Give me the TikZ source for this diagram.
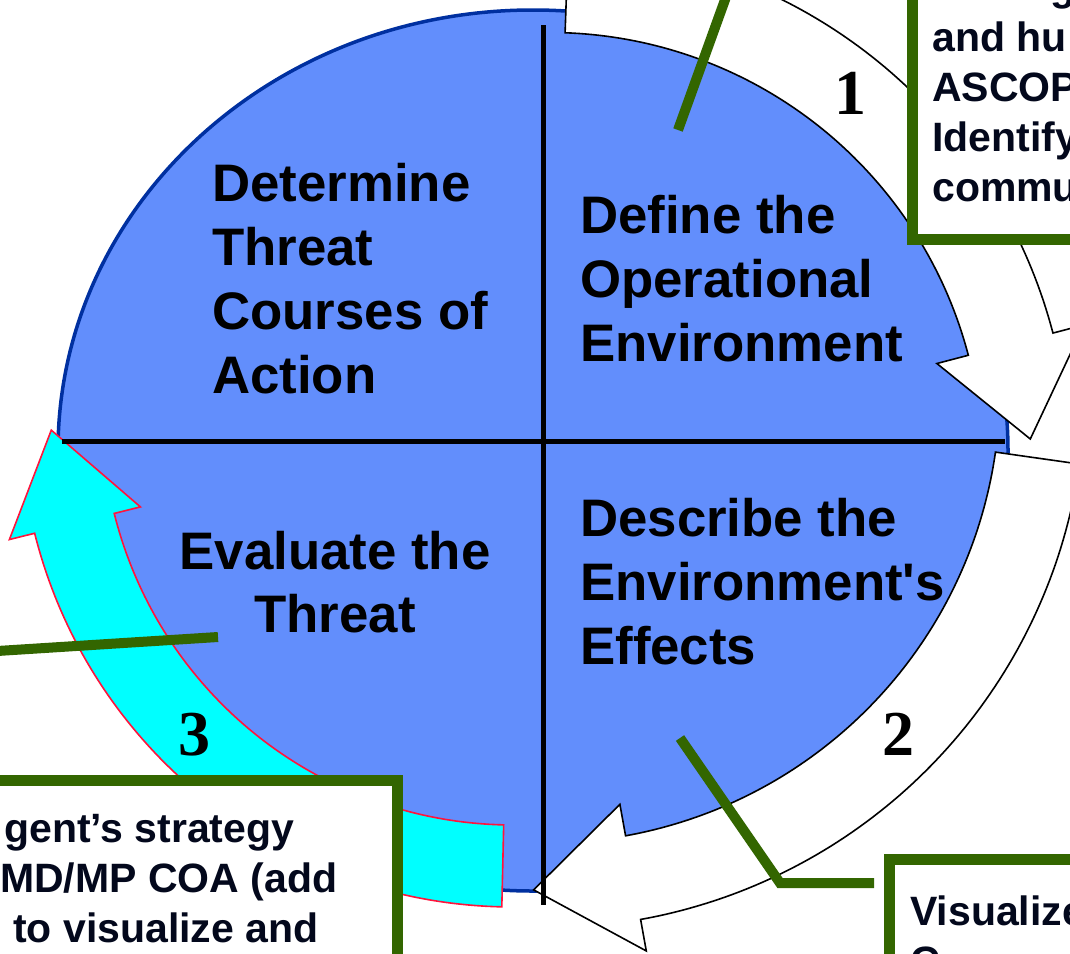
\documentclass[tikz,border=0pt]{standalone}
\usepackage{fontspec}
\setmainfont{Liberation Sans}
\newfontfamily\numfont{Liberation Serif}
\definecolor{qblue}{RGB}{98,142,252}
\definecolor{qborder}{RGB}{0,48,160}
\definecolor{lgreen}{RGB}{51,102,0}
\definecolor{btxt}{RGB}{3,8,28}
\definecolor{rline}{RGB}{255,20,60}
\definecolor{acyan}{RGB}{0,255,255}
\begin{document}
\begin{tikzpicture}[x=1pt,y=-1pt,
  qtext/.style={font=\fontsize{52.8}{64}\selectfont\bfseries, inner sep=0pt, anchor=base west},
  qctext/.style={qtext, anchor=base},
  btext/.style={font=\fontsize{41}{50}\selectfont\bfseries, text=btxt, inner sep=0pt, anchor=base west},
  numtext/.style={font=\numfont\fontsize{64}{64}\selectfont\bfseries, inner sep=0pt, anchor=base},
  warrow/.style={fill=white, draw=black, line width=1.6pt, line join=miter},
  carrow/.style={fill=acyan, draw=rline, line width=1.6pt, line join=miter},
  qline/.style={line width=5pt},
  leader/.style={draw=lgreen, line width=10pt},
  gbox/.style={fill=white, draw=lgreen, line width=11pt}
]
\path[use as bounding box] (0,0) rectangle (1070,953);
\clip (0,0) rectangle (1070,953);

% main disc
\draw[fill=qblue, draw=qborder, line width=3.5pt] (533,450.5) ellipse [x radius=475, y radius=440.5];

% arrow 1 (white, top right)
\draw[warrow]
  plot[domain=-88:-14.7, samples=80] ({550+432.5*cos(\x)},{465+432.5*sin(\x)})
  -- ({550+400*cos(-14.7)},{465+400*sin(-14.7)})
  -- ({550+481*cos(-3.1)},{465+481*sin(-3.1)})
  -- ({550+552*cos(-14.7)},{465+552*sin(-14.7)})
  -- plot[domain=-14.7:-88, samples=80] ({550+520*cos(\x)},{465+520*sin(\x)})
  -- cycle;

% arrow 2 (white, bottom right)
\draw[warrow]
  plot[domain=8.1:79.8, samples=80] ({545+455*cos(\x)},{388+455*sin(\x)})
  -- ({545+423*cos(79.8)},{388+423*sin(79.8)})
  -- ({545+502*cos(91.3)},{388+502*sin(91.3)})
  -- ({545+572*cos(79.8)},{388+572*sin(79.8)})
  -- plot[domain=79.8:8.1, samples=80] ({545+540*cos(\x)},{388+540*sin(\x)})
  -- cycle;

% arrow 3 (cyan, left)
\draw[carrow]
  plot[domain=91.3:166, samples=80] ({513+411*cos(\x)},{414+411*sin(\x)})
  -- ({513+384*cos(166)},{414+384*sin(166)})
  -- ({513+462*cos(178)},{414+462*sin(178)})
  -- ({513+519*cos(166)},{414+519*sin(166)})
  -- plot[domain=166:91.3, samples=80] ({513+493*cos(\x)},{414+493*sin(\x)})
  -- cycle;

% quadrant lines
\coordinate (vtop) at (543,25);
\coordinate (vbot) at (543,905);
\coordinate (hleft) at (62,441);
\coordinate (hright) at (1005,441);
\draw[qline] (vtop) -- (vbot);
\draw[qline] (hleft) -- (hright);

% quadrant texts
\node[qtext] (d1) at (212,201) {Determine};
\node[qtext] (d2) at (212,265) {Threat};
\node[qtext] (d3) at (212,329) {Courses of};
\node[qtext] (d4) at (212,393) {Action};

\node[qtext] (o1) at (580,233) {Define the};
\node[qtext] (o2) at (580,297) {Operational};
\node[qtext] (o3) at (580,361) {Environment};

\node[qctext] (e1) at (335,569) {Evaluate the};
\node[qctext] (e2) at (335,632) {Threat};

\node[qtext] (f1) at (580,536) {Describe the};
\node[qtext] (f2) at (580,600) {Environment\textquotesingle s};
\node[qtext] (f3) at (580,664) {Effects};

% step numbers
\node[numtext] (n1) at (850,114) {1};
\node[numtext] (n2) at (898,755) {2};
\node[numtext] (n3) at (194,755) {3};

% leader lines
\coordinate (l1a) at (678,130);
\coordinate (l1b) at (761,-100);
\draw[leader] (l1a) -- (l1b);
\coordinate (l2a) at (218,637);
\coordinate (l2b) at (-50,654);
\draw[leader] (l2a) -- (l2b);
\coordinate (l3a) at (680,738);
\coordinate (l3b) at (780,883);
\coordinate (l3c) at (874,883);
\draw[leader] (l3a) -- (l3b) -- (l3c);

% text boxes
\draw[gbox] (912.5,-100) rectangle (1200,239);
\draw[gbox] (-100,780) rectangle (397.5,1100);
\draw[gbox] (889.5,859.5) rectangle (1200,1100);

\node[btext] (a0) at (1050,1) {g};
\node[btext] (a1) at (932,51) {and hu};
\node[btext] (a2) at (932,101) {ASCOP};
\node[btext] (a3) at (932,151) {Identify};
\node[btext] (a4) at (932,201) {commu};

\node[btext] (b1) at (4,842) {gent’s strategy};
\node[btext] (b2) at (0,892) {MD/MP COA (add};
\node[btext] (b3) at (13,942) {to visualize and};

\node[btext] (c1) at (910,925) {Visualize};
\node[btext] (c2) at (910,975) {C};
\end{tikzpicture}
\end{document}
